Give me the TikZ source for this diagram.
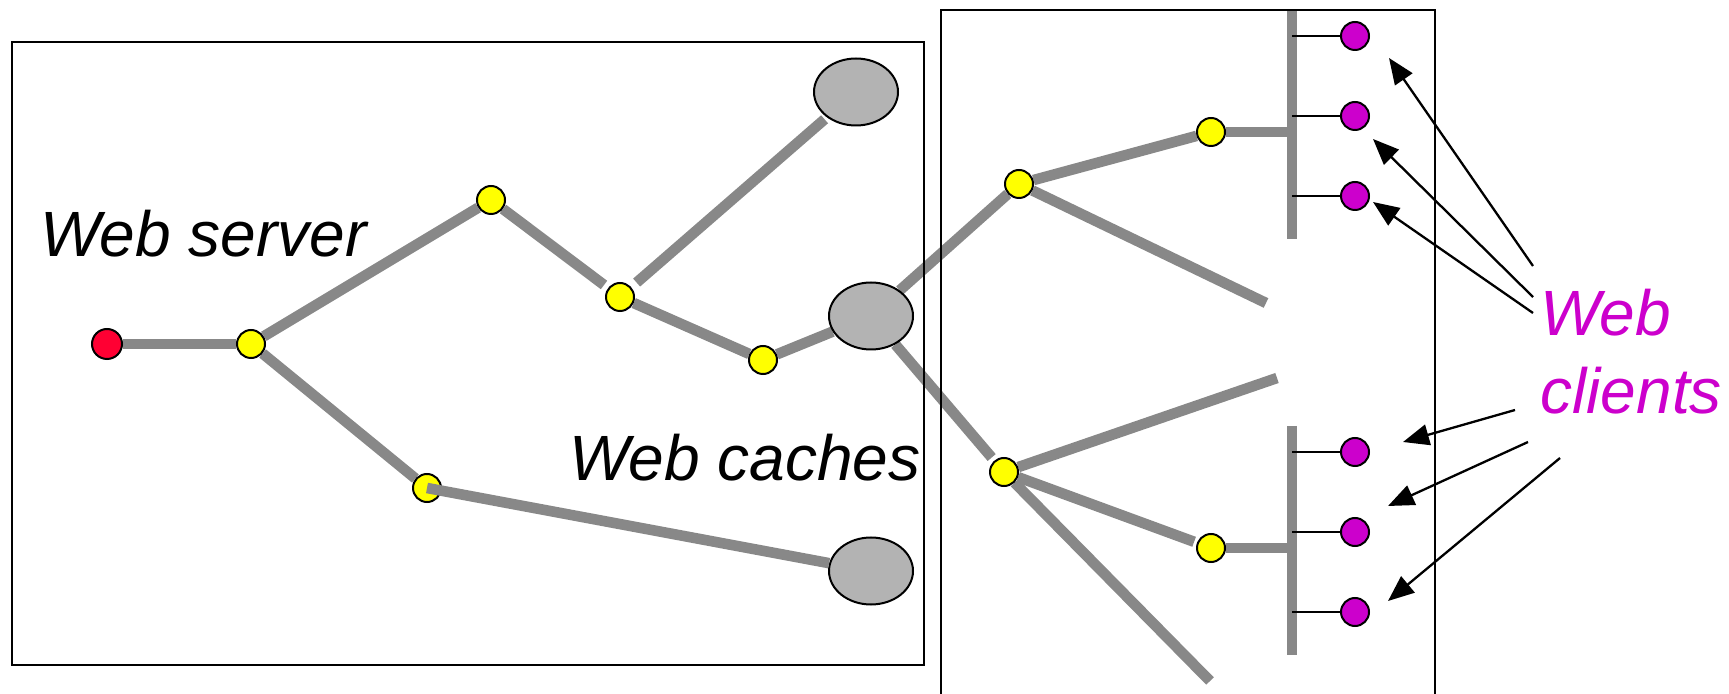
\documentclass[tikz,border=0pt]{standalone}
\usepackage{fontspec}
\newfontfamily\labfont{Liberation Sans}
\usetikzlibrary{arrows.meta,shapes.geometric}
\definecolor{linegray}{HTML}{888888}
\definecolor{cachegray}{HTML}{B3B3B3}
\definecolor{routeryellow}{HTML}{FFFF00}
\definecolor{serverred}{HTML}{FF0033}
\definecolor{clientmag}{HTML}{CC00CC}
\pgfdeclarelayer{background}
\pgfsetlayers{background,main}
\begin{document}
\begin{tikzpicture}[x=0.5pt,y=-0.5pt,
  dot/.style={circle,draw=black,line width=1pt,minimum size=14pt,inner sep=0pt},
  router/.style={dot,fill=routeryellow},
  server/.style={dot,fill=serverred,minimum size=15pt},
  client/.style={dot,fill=clientmag},
  cache/.style={ellipse,draw=black,line width=1pt,fill=cachegray,minimum width=42pt,minimum height=33.5pt,inner sep=0pt},
  link/.style={draw=linegray,line width=5.3pt},
  bus/.style={draw=linegray,line width=5pt},
  tick/.style={draw=black,line width=0.9pt},
  frame/.style={draw=black,line width=0.9pt},
  pointer/.style={draw=black,line width=1.15pt,-{Triangle[length=13pt,width=10.5pt]}},
  lab/.style={font=\labfont\itshape\fontsize{32}{39}\selectfont,inner sep=0pt}]
\useasboundingbox (0,0) rectangle (1729,694);
% frames
\draw[frame] (12,42) rectangle (924,665);
\draw[frame] (941,700) -- (941,10) -- (1435,10) -- (1435,700);
% nodes
\node[server] (srv) at (107,344) {};
\node[router] (r1) at (251,344) {};
\node[router] (r2) at (491,200) {};
\node[router] (r3) at (620,297) {};
\node[router] (r4) at (763,360) {};
\node[router] (r5) at (427,488) {};
\node[cache] (c1) at (856,92) {};
\node[cache] (c2) at (871,316) {};
\node[cache] (c3) at (871,571) {};
\node[router] (r6) at (1019,184) {};
\node[router] (r7) at (1211,132) {};
\node[router] (r8) at (1004,472) {};
\node[router] (r9) at (1211,548) {};
\coordinate (b1t) at (1292,10);
\coordinate (b1b) at (1292,239);
\coordinate (b2t) at (1292,426);
\coordinate (b2b) at (1292,655);
\node[client] (m1) at (1355,36) {};
\node[client] (m2) at (1355,116) {};
\node[client] (m3) at (1355,196) {};
\node[client] (m4) at (1355,452) {};
\node[client] (m5) at (1355,532) {};
\node[client] (m6) at (1355,612) {};
\coordinate (d1) at (1266,303);
\coordinate (d2) at (1277,378);
\coordinate (d3) at (1210,681);
% labels
\node[lab,anchor=base west] (lserver) at (40,257) {Web server};
\node[lab,anchor=base west] (lcache) at (569,481) {Web caches};
\node[lab,anchor=north west,align=left,text=clientmag] (lclient) at (1540,289) {Web\\clients};
% links
\begin{pgfonlayer}{background}
\draw[link] (srv) -- (r1);
\draw[link] (r1) -- (r2);
\draw[link,shorten >=2.5pt] (r2) -- (r3);
\draw[link,shorten <=3.5pt,shorten >=1.5pt] (r3) -- (c1);
\draw[link] (r3) -- (r4);
\draw[link] (r4) -- (c2);
\draw[link] (r1) -- (r5);
\draw[link] (c2) -- (r6);
\draw[link] (r6) -- (r7);
\draw[link] (r6) -- (d1);
\draw[link,shorten >=2pt] (c2) -- (r8);
\draw[link] (r8) -- (d2);
\draw[link,shorten >=1.5pt] (r8) -- (r9);
\draw[link] (r8) -- (d3);
\draw[link] (r7) -- (r7 -| b1t);
\draw[link] (r9) -- (r9 -| b2t);
\draw[bus] (b1t) -- (b1b);
\draw[bus] (b2t) -- (b2b);
\foreach \m/\b in {m1/b1t,m2/b1t,m3/b1t,m4/b2t,m5/b2t,m6/b2t}
  \draw[tick] (\m -| \b) -- (\m);
\end{pgfonlayer}
\draw[link] (r5.center) -- (c3);
% pointers
\coordinate (a1s) at (1533,266); \coordinate (a1e) at (1389,58);
\coordinate (a2s) at (1533,297); \coordinate (a2e) at (1373,139);
\coordinate (a3s) at (1533,313); \coordinate (a3e) at (1373,202);
\coordinate (a4s) at (1515,410); \coordinate (a4e) at (1403,442);
\coordinate (a5s) at (1528,442); \coordinate (a5e) at (1388,506);
\coordinate (a6s) at (1560,458); \coordinate (a6e) at (1388,601);
\foreach \i in {1,...,6} \draw[pointer] (a\i s) -- (a\i e);
\end{tikzpicture}
\end{document}
